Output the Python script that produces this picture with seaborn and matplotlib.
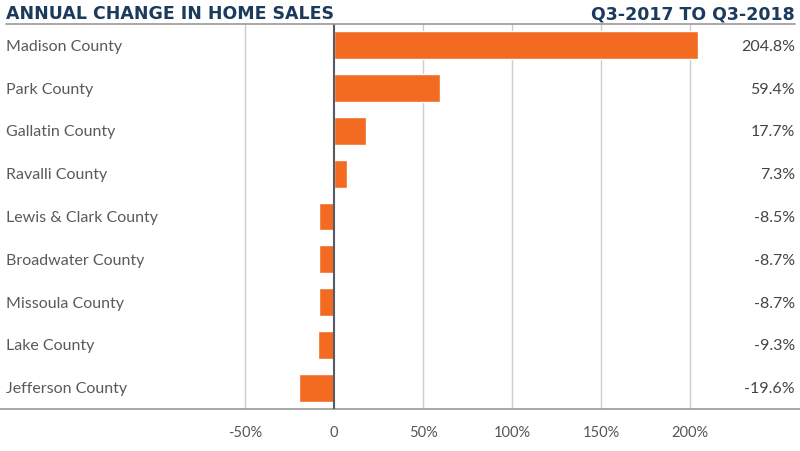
import pandas as pd
import seaborn as sns
import matplotlib.pyplot as plt

# Data
counties = ['Madison County', 'Park County', 'Gallatin County', 'Ravalli County',
            'Lewis & Clark County', 'Broadwater County', 'Missoula County',
            'Lake County', 'Jefferson County']
pct_change = [204.8, 59.4, 17.7, 7.3, -8.5, -8.7, -8.7, -9.3, -19.6]
value_labels = ['204.8%', '59.4%', '17.7%', '7.3%', '-8.5%', '-8.7%', '-8.7%', '-9.3%', '-19.6%']
tick_values = [-50, 0, 50, 100, 150, 200]
tick_labels = ['-50%', '0', '50%', '100%', '150%', '200%']

df = pd.DataFrame({'county': counties, 'change': pct_change})

sns.set_theme(style='white')
plt.rcParams['font.family'] = ['Lato', 'DejaVu Sans']

orange = '#F26B21'
navy = '#1B3A5C'
text_gray = '#555555'

fig = plt.figure(figsize=(8, 4.51), dpi=100)
ax = fig.add_axes([0, 1 - 409 / 451, 1, 385 / 451])

sns.barplot(data=df, y='county', x='change', orient='h', color=orange,
            width=0.65, saturation=1, ax=ax)

ax.set_xlim(-188, 262)
ax.set_ylim(8.5, -0.5)

# gridlines
for v in tick_values:
    if v == 0:
        ax.axvline(v, color='#555b62', lw=1.5, zorder=3)
    else:
        ax.axvline(v, color='#cccccc', lw=1, zorder=0)

for s in ['left', 'right', 'top']:
    ax.spines[s].set_visible(False)
ax.spines['bottom'].set_color('#999999')
ax.spines['bottom'].set_linewidth(1.2)

ax.set_yticks([])
ax.set_ylabel('')
ax.set_xlabel('')
ax.set_xticks(tick_values)
ax.set_xticklabels(tick_labels, color=text_gray, fontsize=10.5)
ax.tick_params(axis='x', length=0, pad=12)

# category labels on the left and values on the right
for i, (name, lab) in enumerate(zip(counties, value_labels)):
    ax.text(6 / 800, i, name, transform=ax.get_yaxis_transform(),
            ha='left', va='center_baseline', fontsize=11.5, color='#5a5a5a')
    ax.text(795 / 800, i, lab, transform=ax.get_yaxis_transform(),
            ha='right', va='center_baseline', fontsize=11.5, color='#444444')

# header
fig.text(6 / 800, 1 - 12 / 451, 'ANNUAL CHANGE IN HOME SALES', ha='left', va='center_baseline',
         fontsize=12.5, fontweight='bold', color=navy, family='DejaVu Sans')
fig.text(795 / 800, 1 - 12 / 451, 'Q3-2017 TO Q3-2018', ha='right', va='center_baseline',
         fontsize=12.5, fontweight='bold', color=navy, family='DejaVu Sans')
fig.add_artist(plt.Line2D([6 / 800, 795 / 800], [1 - 24 / 451, 1 - 24 / 451],
                          color='#999999', lw=1.2))

fig.savefig('out.png', dpi=100)
